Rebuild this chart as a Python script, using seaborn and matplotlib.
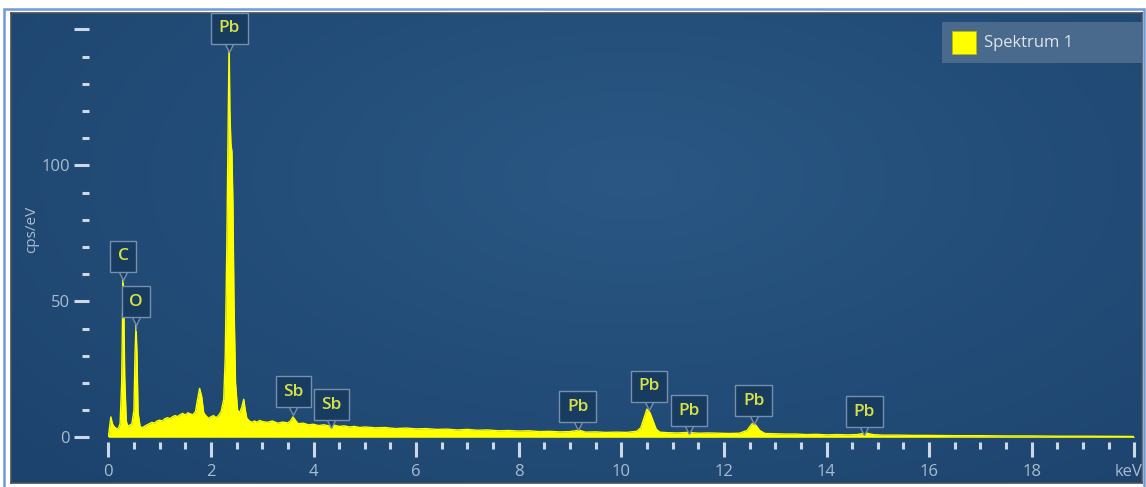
import numpy as np
import matplotlib
matplotlib.use("Agg")
import matplotlib.pyplot as plt
import seaborn as sns
from matplotlib.patches import Rectangle
from matplotlib.colors import LinearSegmentedColormap
from matplotlib.transforms import ScaledTranslation

# EDS spectrum: energy (keV) and intensity (cps/eV)
energy = [
    0.00, 0.02, 0.05, 0.08, 0.11, 0.14, 0.17, 0.20, 0.23, 0.26, 0.28, 0.29, 0.30, 0.32, 0.35,
    0.38, 0.42, 0.46, 0.50, 0.52, 0.54, 0.56, 0.58, 0.62, 0.66, 0.70, 0.75, 0.80, 0.85, 0.90,
    0.95, 1.00, 1.05, 1.10, 1.15, 1.20, 1.25, 1.30, 1.35, 1.40, 1.45, 1.50, 1.55, 1.60, 1.65,
    1.70, 1.74, 1.78, 1.82, 1.86, 1.90, 1.95, 2.00, 2.05, 2.10, 2.15, 2.20, 2.25, 2.28, 2.31,
    2.33, 2.345, 2.355, 2.37, 2.39, 2.41, 2.43, 2.45, 2.48, 2.52, 2.56, 2.60, 2.64, 2.67, 2.70,
    2.75, 2.80, 2.85, 2.90, 2.95, 3.00, 3.10, 3.20, 3.30, 3.40, 3.50, 3.55, 3.60, 3.65, 3.70,
    3.80, 3.90, 4.00, 4.10, 4.20, 4.30, 4.40, 4.50, 4.60, 4.70, 4.80, 4.90, 5.00, 5.20, 5.40,
    5.60, 5.80, 6.00, 6.20, 6.40, 6.60, 6.80, 7.00, 7.20, 7.40, 7.60, 7.80, 8.00, 8.20, 8.40,
    8.60, 8.80, 9.00, 9.18, 9.30, 9.50, 9.70, 9.90, 10.10, 10.30, 10.38, 10.44, 10.50, 10.56, 10.62,
    10.68, 10.75, 10.90, 11.10, 11.30, 11.50, 11.70, 11.90, 12.10, 12.30, 12.45, 12.55, 12.62, 12.70, 12.80,
    13.00, 13.20, 13.40, 13.60, 13.80, 14.00, 14.20, 14.40, 14.60, 14.77, 14.90, 15.10, 15.40, 15.70, 16.00,
    16.50, 17.00, 17.50, 18.00, 18.50, 19.00, 19.50, 20.00,
]
cps = [
    0.0, 3.0, 7.5, 5.0, 4.0, 3.5, 3.0, 3.5, 5.0, 20.0, 48.0, 58.0, 52.0, 22.0, 6.0,
    4.0, 4.5, 5.0, 10.0, 30.0, 41.5, 30.0, 9.0, 4.0, 3.5, 4.0, 4.5, 5.0, 5.5, 5.2,
    6.0, 6.3, 6.0, 6.8, 7.2, 6.9, 7.5, 8.0, 7.6, 8.3, 8.8, 8.2, 9.0, 8.6, 8.3,
    9.5, 14.0, 18.0, 15.0, 9.0, 8.0, 7.0, 7.5, 8.0, 7.2, 8.0, 9.5, 14.0, 30.0, 70.0,
    105.0, 130.0, 147.0, 120.0, 108.0, 105.0, 85.0, 50.0, 20.0, 10.0, 9.0, 11.0, 14.0, 10.0, 7.0,
    6.0, 5.5, 6.0, 5.5, 6.2, 5.8, 5.5, 6.0, 5.2, 5.6, 5.3, 6.0, 7.5, 6.2, 5.0,
    5.2, 4.6, 4.8, 4.3, 4.6, 4.2, 4.5, 4.0, 4.2, 3.8, 4.0, 3.6, 3.8, 3.5, 3.6,
    3.2, 3.4, 3.1, 3.2, 2.9, 3.0, 2.7, 2.9, 2.6, 2.7, 2.4, 2.5, 2.3, 2.4, 2.1,
    2.2, 2.0, 2.1, 2.6, 1.9, 2.0, 1.8, 1.9, 1.8, 2.2, 3.5, 7.0, 10.4, 9.0, 6.0,
    3.0, 1.9, 1.7, 1.6, 1.8, 1.5, 1.6, 1.5, 1.4, 1.5, 2.5, 5.0, 4.5, 2.5, 1.4,
    1.3, 1.2, 1.2, 1.0, 1.1, 0.9, 1.0, 0.9, 1.0, 1.6, 1.0, 0.8, 0.8, 0.7, 0.7,
    0.6, 0.6, 0.5, 0.5, 0.4, 0.4, 0.35, 0.3,
]

# Identified lines: element, line energy, marker tip and box centre (cps/eV)
peak_labels = ["C", "O", "Pb", "Sb", "Sb", "Pb", "Pb", "Pb", "Pb", "Pb"]
label_energy = [0.29, 0.54, 2.36, 3.61, 4.35, 9.15, 10.54, 11.32, 12.58, 14.74]
label_tip = [57.0, 39.6, 146.0, 9.3, 4.4, 3.7, 10.7, 2.2, 5.9, 1.9]
label_box = [66.5, 49.8, 150.4, 16.8, 12.0, 11.3, 18.7, 9.8, 13.5, 9.4]

x_ticks = [0, 2, 4, 6, 8, 10, 12, 14, 16, 18, 20]
x_tick_labels = ["0", "2", "4", "6", "8", "10", "12", "14", "16", "18", "keV"]
y_ticks = [0, 50, 100, 150]
y_tick_labels = ["0", "50", "100", ""]
series_name = "Spektrum 1"
y_title = "cps/eV"

sns.set_style("white")
plt.rcParams["font.family"] = ["Open Sans", "DejaVu Sans"]

W, H = 1146, 487
fig = plt.figure(figsize=(W / 100, H / 100), dpi=100)
fig.patch.set_facecolor("white")

# outer frame
fig.patches.append(Rectangle((3.5 / W, -0.02), (1143.5 - 3.5) / W, (H - 9) / H + 0.02,
                             transform=fig.transFigure, fill=False,
                             edgecolor="#6f9bd6", lw=1.8, zorder=0))

# dark panel with a soft gradient
bg = fig.add_axes([11 / W, 4 / H, 1131 / W, 470 / H])
bg.set_zorder(-1)
gx, gy = np.meshgrid(np.linspace(0, 1, 300), np.linspace(0, 1, 130))
r = np.sqrt(((gx - 0.55) / 0.75) ** 2 + ((gy - 0.35) / 0.9) ** 2)
panel_cmap = LinearSegmentedColormap.from_list("panel", ["#2a5784", "#1c436d"])
bg.imshow(np.clip(r, 0, 1), cmap=panel_cmap, aspect="auto", extent=[0, 1, 0, 1],
          vmin=0, vmax=1, origin="upper")
bg.set_xticks([])
bg.set_yticks([])
for s in bg.spines.values():
    s.set_color("#4a4f57")
    s.set_linewidth(1.2)

# spectrum axes
x0, x20 = 108.3, 1134.3
y0_px = 437.3
ppu = 2.72
ax = fig.add_axes([x0 / W, (H - y0_px) / H, (x20 - x0) / W, 155 * ppu / H])
ax.patch.set_alpha(0)

ax.fill_between(energy, cps, 0, color="#ffff00", lw=0, zorder=2)
sns.lineplot(x=energy, y=cps, ax=ax, color="#ffff00", lw=1.0, zorder=3)

ax.set_xlim(0, 20)
ax.set_ylim(0, 155)

for s in ["top", "right"]:
    ax.spines[s].set_visible(False)
ax.spines["left"].set_position(("outward", 14))
ax.spines["bottom"].set_position(("outward", 3.5))
ax.spines["left"].set_visible(False)
ax.spines["bottom"].set_visible(False)

ax.set_xticks(x_ticks)
ax.set_xticklabels(x_tick_labels)
ax.set_xticks(np.arange(0, 20.01, 0.5), minor=True)
ax.set_yticks(y_ticks)
ax.set_yticklabels(y_tick_labels)
ax.set_yticks(np.arange(0, 151, 10), minor=True)

tick_col = "#cdd8e4"
lab_col = "#a9bccf"
ax.tick_params(axis="x", which="major", direction="out", length=10.5, width=2.2,
               color=tick_col, labelcolor=lab_col, labelsize=12, pad=5, bottom=True)
ax.tick_params(axis="x", which="minor", direction="out", length=5, width=2.2,
               color=tick_col, bottom=True)
ax.tick_params(axis="y", which="major", direction="out", length=11, width=2.2,
               color=tick_col, labelcolor=lab_col, labelsize=12, pad=2.5, left=True)
ax.tick_params(axis="y", which="minor", direction="out", length=5, width=2.2,
               color=tick_col, left=True)
# unit label sits a little left of its tick so it stays inside the panel
unit_lab = ax.get_xticklabels()[-1]
unit_lab.set_transform(unit_lab.get_transform()
                       + ScaledTranslation(-6 / 100, 0, fig.dpi_scale_trans))
ax.set_xlabel("")
ax.set_ylabel("")
fig.text(32 / W, 1 - 229 / H, y_title, rotation=90, ha="center", va="center",
         color=lab_col, fontsize=11)

# element markers
box_fc = "#183b60"
box_ec = "#7590ae"
txt_col = "#d6e24a"
notch = ScaledTranslation(0, -17.5 / 100, fig.dpi_scale_trans)
for name, e, tip, yb in zip(peak_labels, label_energy, label_tip, label_box):
    ax.plot([e, e], [tip, yb], color=box_ec, lw=1.0, zorder=4, clip_on=False)
    ax.plot([e], [yb], marker="v", ms=8, mfc=box_fc, mec=box_ec, mew=1.0,
            transform=ax.transData + notch, zorder=5, clip_on=False)
    ax.text(e, yb, name, ha="center", va="center", color=txt_col, fontsize=12.5,
            fontweight="semibold", zorder=6, clip_on=False,
            bbox=dict(boxstyle="square,pad=0.44", fc=box_fc, ec=box_ec, lw=1.0))

# legend box
fig.patches.append(Rectangle((942 / W, 1 - 63 / H), 200 / W, 41 / H,
                             transform=fig.transFigure, facecolor="#4a6a8d",
                             edgecolor="none", zorder=5))
fig.patches.append(Rectangle((952 / W, 1 - 54 / H), 24 / W, 23 / H,
                             transform=fig.transFigure, facecolor="#ffff00",
                             edgecolor="#b8b800", lw=0.6, zorder=6))
fig.text(984 / W, 1 - 43 / H, series_name, ha="left", va="center",
         color="#dfe4ec", fontsize=12, zorder=7)

fig.savefig("out.png", dpi=100)
